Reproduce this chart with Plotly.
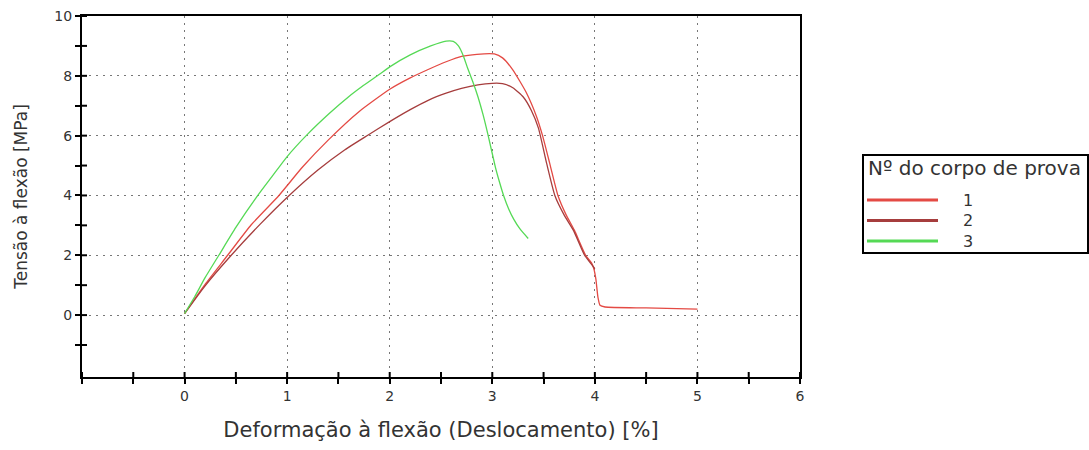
import plotly.graph_objects as go

# Flexural stress–strain curves, one per specimen
strain_1 = [0.0, 0.1, 0.2, 0.42, 0.65, 0.92, 1.15, 1.4, 1.7, 2.0, 2.2, 2.38, 2.55, 2.7, 2.85, 3.02,
            3.1, 3.2, 3.33, 3.43, 3.49, 3.56, 3.64, 3.72, 3.8, 3.91, 3.97, 3.99, 4.01, 4.03, 4.05, 4.1,
            4.5, 5.0]
stress_1 = [0.05, 0.55, 1.03, 2.0, 3.02, 4.0, 4.95, 5.85, 6.8, 7.55, 7.93, 8.22, 8.47, 8.65, 8.72, 8.73,
            8.6, 8.2, 7.45, 6.65, 6.0, 5.07, 4.0, 3.35, 2.84, 2.0, 1.73, 1.55, 1.2, 0.6, 0.33, 0.27,
            0.24, 0.2]

strain_2 = [0.0, 0.2, 0.455, 0.74, 1.02, 1.3, 1.56, 1.79, 2.0, 2.2, 2.38, 2.55, 2.7, 2.86, 3.0, 3.1,
            3.2, 3.3, 3.38, 3.45, 3.53, 3.61, 3.7, 3.79, 3.9, 3.96, 4.0]
stress_2 = [0.05, 0.98, 2.0, 3.05, 4.0, 4.85, 5.52, 6.02, 6.47, 6.87, 7.19, 7.42, 7.58, 7.7, 7.75, 7.74,
            7.6, 7.3, 6.85, 6.25, 5.07, 4.0, 3.35, 2.84, 2.0, 1.73, 1.55]

strain_3 = [0.0, 0.1, 0.2, 0.334, 0.5, 0.714, 0.85, 1.0, 1.2, 1.41, 1.6, 1.73, 1.9, 2.0, 2.2, 2.4, 2.55,
            2.62, 2.67, 2.72, 2.76, 2.81, 2.86, 2.91, 2.96, 3.03, 3.07, 3.11, 3.16, 3.21, 3.27, 3.35]
stress_3 = [0.05, 0.62, 1.25, 2.0, 2.93, 4.0, 4.62, 5.3, 6.05, 6.74, 7.3, 7.64, 8.05, 8.3, 8.7, 9.0, 9.16,
            9.15, 9.0, 8.65, 8.25, 7.8, 7.3, 6.7, 6.0, 4.95, 4.45, 4.0, 3.55, 3.2, 2.88, 2.56]

specimen_names = ["1", "2", "3"]
specimen_colors = ["#e44a44", "#a63d3d", "#55d955"]
legend_title = "Nº do corpo de prova"

x_ticks = [-1, 0, 1, 2, 3, 4, 5, 6]
x_ticklabels = ["", "0", "1", "2", "3", "4", "5", "6"]
x_minor = [-0.5, 0.5, 1.5, 2.5, 3.5, 4.5, 5.5]
y_ticks = [0, 2, 4, 6, 8, 10]
y_ticklabels = ["0", "2", "4", "6", "8", "10"]
y_minor = [-1, 1, 3, 5, 7, 9]

x_range = [-1, 6]
y_range = [-2.07, 10]

W, H = 1089, 450
M_L, M_R, M_T, M_B = 82, 289, 16, 73
FONT = "DejaVu Sans"
TEXT = "#333333"
TICK_LEN = 5


def px_to_paper(px, py):
    """Convert page pixels to paper coordinates of the plotting area."""
    return (px - M_L) / (W - M_L - M_R), (H - M_B - py) / (H - M_T - M_B)


fig = go.Figure()
for name, xs, ys, color in zip(specimen_names, [strain_1, strain_2, strain_3],
                               [stress_1, stress_2, stress_3], specimen_colors):
    fig.add_trace(go.Scatter(x=xs, y=ys, mode="lines", name=name, showlegend=False,
                             line=dict(color=color, width=1.3, shape="spline", smoothing=0.5)))

tick_style = dict(ticklen=TICK_LEN, tickwidth=2, tickcolor="black")
grid_style = dict(showgrid=True, gridcolor="#777777", gridwidth=1.3, griddash="2px,5px")

shapes = []
# Inner half of each tick mark, so the marks cross the axis lines
for xv in x_ticks + x_minor:
    shapes.append(dict(type="line", xref="x", yref="y", ysizemode="pixel", yanchor=y_range[0],
                       x0=xv, x1=xv, y0=0, y1=TICK_LEN, line=dict(color="black", width=2)))
for yv in y_ticks + y_minor:
    shapes.append(dict(type="line", xref="x", yref="y", xsizemode="pixel", xanchor=x_range[0],
                       x0=0, x1=TICK_LEN, y0=yv, y1=yv, line=dict(color="black", width=2)))

# Legend box with a long line sample per specimen
bx0, by0 = px_to_paper(863, 155)
bx1, by1 = px_to_paper(1088, 253)
shapes.append(dict(type="rect", xref="paper", yref="paper", x0=bx0, y0=by0, x1=bx1, y1=by1,
                   line=dict(color="black", width=2), fillcolor="white"))
annotations = []
tx, ty = px_to_paper(866, 168)
annotations.append(dict(text=legend_title, xref="paper", yref="paper", x=tx, y=ty,
                        xanchor="left", yanchor="middle", showarrow=False,
                        font=dict(family=FONT, size=20, color=TEXT)))
for i, (name, color) in enumerate(zip(specimen_names, specimen_colors)):
    row_y = 200 + i * 20.5
    lx0, ly = px_to_paper(867, row_y)
    lx1, _ = px_to_paper(938, row_y)
    shapes.append(dict(type="line", xref="paper", yref="paper", x0=lx0, x1=lx1, y0=ly, y1=ly,
                       line=dict(color=color, width=3)))
    nx, _ = px_to_paper(961, row_y)
    annotations.append(dict(text=name, xref="paper", yref="paper", x=nx, y=ly,
                            xanchor="left", yanchor="middle", showarrow=False,
                            font=dict(family=FONT, size=16, color=TEXT)))

fig.update_layout(
    width=W, height=H,
    margin=dict(l=M_L, r=M_R, t=M_T, b=M_B, autoexpand=False),
    paper_bgcolor="white", plot_bgcolor="white",
    font=dict(family=FONT, color=TEXT),
    showlegend=False,
    xaxis=dict(range=x_range, tickmode="array", tickvals=x_ticks, ticktext=x_ticklabels,
               ticks="outside", **tick_style, **grid_style,
               minor=dict(tickvals=x_minor, ticks="outside", showgrid=False, **tick_style),
               zeroline=False, showline=True, linecolor="black", linewidth=2,
               mirror=True, tickfont=dict(size=14, color=TEXT),
               title=dict(text="Deformação à flexão (Deslocamento) [%]",
                          font=dict(size=21, color=TEXT), standoff=20)),
    yaxis=dict(range=y_range, tickmode="array", tickvals=y_ticks, ticktext=y_ticklabels,
               ticks="outside", **tick_style, **grid_style,
               minor=dict(tickvals=y_minor, ticks="outside", showgrid=False, **tick_style),
               zeroline=False, showline=True, linecolor="black", linewidth=2,
               mirror=True, tickfont=dict(size=14, color=TEXT),
               title=dict(text="Tensão à flexão [MPa]", font=dict(size=17, color=TEXT),
                          standoff=22)),
    shapes=shapes,
    annotations=annotations,
)

fig.write_html("out.html")
